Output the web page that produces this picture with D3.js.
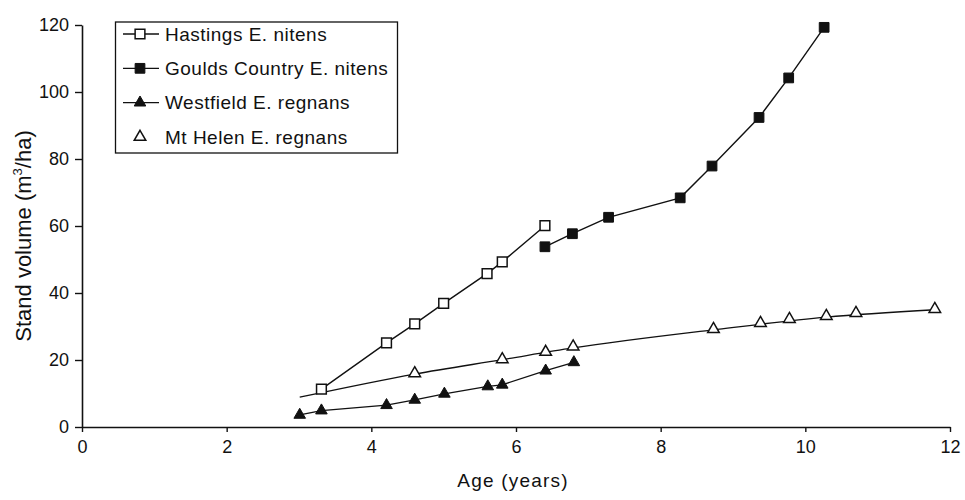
<!DOCTYPE html>
<html>
<head>
<meta charset="utf-8">
<script src="https://cdn.jsdelivr.net/npm/d3@7"></script>
<style>
  html, body { margin: 0; padding: 0; background: #fff; }
  text { font-family: "Liberation Sans", Arial, Helvetica, sans-serif; fill: #111; }
</style>
</head>
<body>
<svg id="chart" width="965" height="500"></svg>
<script>
// Stand volume (m3/ha) against stand age (years)
const hastingsAge = [3.31, 4.21, 4.60, 5.00, 5.60, 5.81, 6.40];
const hastingsVol = [11.3, 25.1, 30.8, 36.9, 45.8, 49.3, 60.1];

const gouldsAge = [6.40, 6.78, 7.28, 8.27, 8.71, 9.36, 9.77, 10.26];
const gouldsVol = [53.8, 57.7, 62.6, 68.4, 77.9, 92.4, 104.2, 119.3];

const westfieldAge = [3.01, 3.31, 4.21, 4.60, 5.01, 5.61, 5.81, 6.41, 6.80];
const westfieldVol = [3.6, 4.9, 6.5, 8.1, 9.9, 12.1, 12.6, 16.8, 19.3];

const mtHelenAge = [4.60, 5.81, 6.41, 6.79, 8.73, 9.38, 9.78, 10.29, 10.70, 11.79];
const mtHelenVol = [16.0, 20.2, 22.4, 24.0, 29.2, 31.0, 32.2, 33.1, 34.0, 35.2];

// fitted growth curve for Mt Helen
const mtHelenFitAge = [3.01, 4.60, 5.81, 6.79, 8.73, 10.29, 11.79];
const mtHelenFitVol = [8.9, 15.8, 20.1, 23.6, 29.0, 32.8, 35.0];

const xTicks = [0, 2, 4, 6, 8, 10, 12];
const yTicks = [0, 20, 40, 60, 80, 100, 120];

const legendLabels = ["Hastings E. nitens", "Goulds Country E. nitens",
                      "Westfield E. regnans", "Mt Helen E. regnans"];

const zip = (a, b) => a.map((v, i) => [v, b[i]]);

const svg = d3.select("#chart");
const plot = { left: 82, right: 950, top: 25, bottom: 427 };

const x = d3.scaleLinear().domain([0, 12]).range([plot.left, plot.right]);
const y = d3.scaleLinear().domain([0, 120]).range([plot.bottom, plot.top]);

// axes
const xAxis = svg.append("g")
  .attr("transform", `translate(0,${plot.bottom})`)
  .call(d3.axisBottom(x).tickValues(xTicks).tickSize(5).tickPadding(8).tickSizeOuter(0));
const yAxis = svg.append("g")
  .attr("transform", `translate(${plot.left},0)`)
  .call(d3.axisLeft(y).tickValues(yTicks).tickSize(7).tickPadding(6).tickSizeOuter(0));

[xAxis, yAxis].forEach(g => {
  g.select(".domain").attr("stroke", "#111").attr("stroke-width", 1.6);
  g.selectAll(".tick line").attr("stroke", "#111").attr("stroke-width", 1.4);
  g.selectAll(".tick text").attr("font-size", 18).attr("fill", "#111")
    .style("font-family", "'Liberation Sans', Arial, sans-serif");
});

// axis titles
svg.append("text")
  .attr("x", 513).attr("y", 487)
  .attr("text-anchor", "middle")
  .attr("font-size", 19)
  .attr("letter-spacing", 1.2)
  .text("Age (years)");

const yTitle = svg.append("text")
  .attr("transform", "translate(31,236) rotate(-90)")
  .attr("text-anchor", "middle")
  .attr("font-size", 22);
yTitle.append("tspan").text("Stand volume (m");
yTitle.append("tspan").attr("font-size", 13).attr("dy", -9).text("3");
yTitle.append("tspan").attr("dy", 9).text("/ha)");

// series
const line = d3.line().x(d => x(d[0])).y(d => y(d[1]));
const curve = d3.line().x(d => x(d[0])).y(d => y(d[1])).curve(d3.curveMonotoneX);

const g = svg.append("g");

g.append("path").datum(zip(mtHelenFitAge, mtHelenFitVol))
  .attr("d", curve).attr("fill", "none").attr("stroke", "#111").attr("stroke-width", 1.3);
g.append("path").datum(zip(hastingsAge, hastingsVol))
  .attr("d", line).attr("fill", "none").attr("stroke", "#111").attr("stroke-width", 1.4);
g.append("path").datum(zip(gouldsAge, gouldsVol))
  .attr("d", line).attr("fill", "none").attr("stroke", "#111").attr("stroke-width", 1.4);
g.append("path").datum(zip(westfieldAge, westfieldVol))
  .attr("d", line).attr("fill", "none").attr("stroke", "#111").attr("stroke-width", 1.3);

const square = d3.symbol().type(d3.symbolSquare).size(95);
const triangle = d3.symbol().type(d3.symbolTriangle).size(58);

function markers(data, shape, filled) {
  g.append("g").selectAll("path").data(data).join("path")
    .attr("d", shape)
    .attr("transform", d => `translate(${x(d[0])},${y(d[1])})`)
    .attr("fill", filled ? "#111" : "#fff")
    .attr("stroke", "#111")
    .attr("stroke-width", filled ? 1 : 1.5);
}
markers(zip(hastingsAge, hastingsVol), square, false);
markers(zip(gouldsAge, gouldsVol), square, true);
markers(zip(westfieldAge, westfieldVol), triangle, true);
markers(zip(mtHelenAge, mtHelenVol), triangle, false);

// legend
const legend = svg.append("g");
legend.append("rect")
  .attr("x", 115.5).attr("y", 22).attr("width", 282).attr("height", 131)
  .attr("fill", "#fff").attr("stroke", "#111").attr("stroke-width", 1.3);

const legendStyle = [
  { shape: square, filled: false, line: true },
  { shape: square, filled: true, line: true },
  { shape: triangle, filled: true, line: true },
  { shape: triangle, filled: false, line: false }
];
const rowY = d3.scalePoint().domain(legendLabels).range([34, 137]);

legendLabels.forEach((label, i) => {
  const s = legendStyle[i];
  const ry = rowY(label);
  if (s.line) {
    legend.append("line")
      .attr("x1", 123).attr("x2", 159).attr("y1", ry).attr("y2", ry)
      .attr("stroke", "#111").attr("stroke-width", 1.3);
  }
  legend.append("path")
    .attr("d", s.shape)
    .attr("transform", `translate(140,${ry})`)
    .attr("fill", s.filled ? "#111" : "#fff")
    .attr("stroke", "#111").attr("stroke-width", s.filled ? 1 : 1.5);
  legend.append("text")
    .attr("x", 165).attr("y", ry).attr("dy", "0.35em")
    .attr("font-size", 19).attr("letter-spacing", 0.5)
    .text(label);
});
</script>
</body>
</html>
